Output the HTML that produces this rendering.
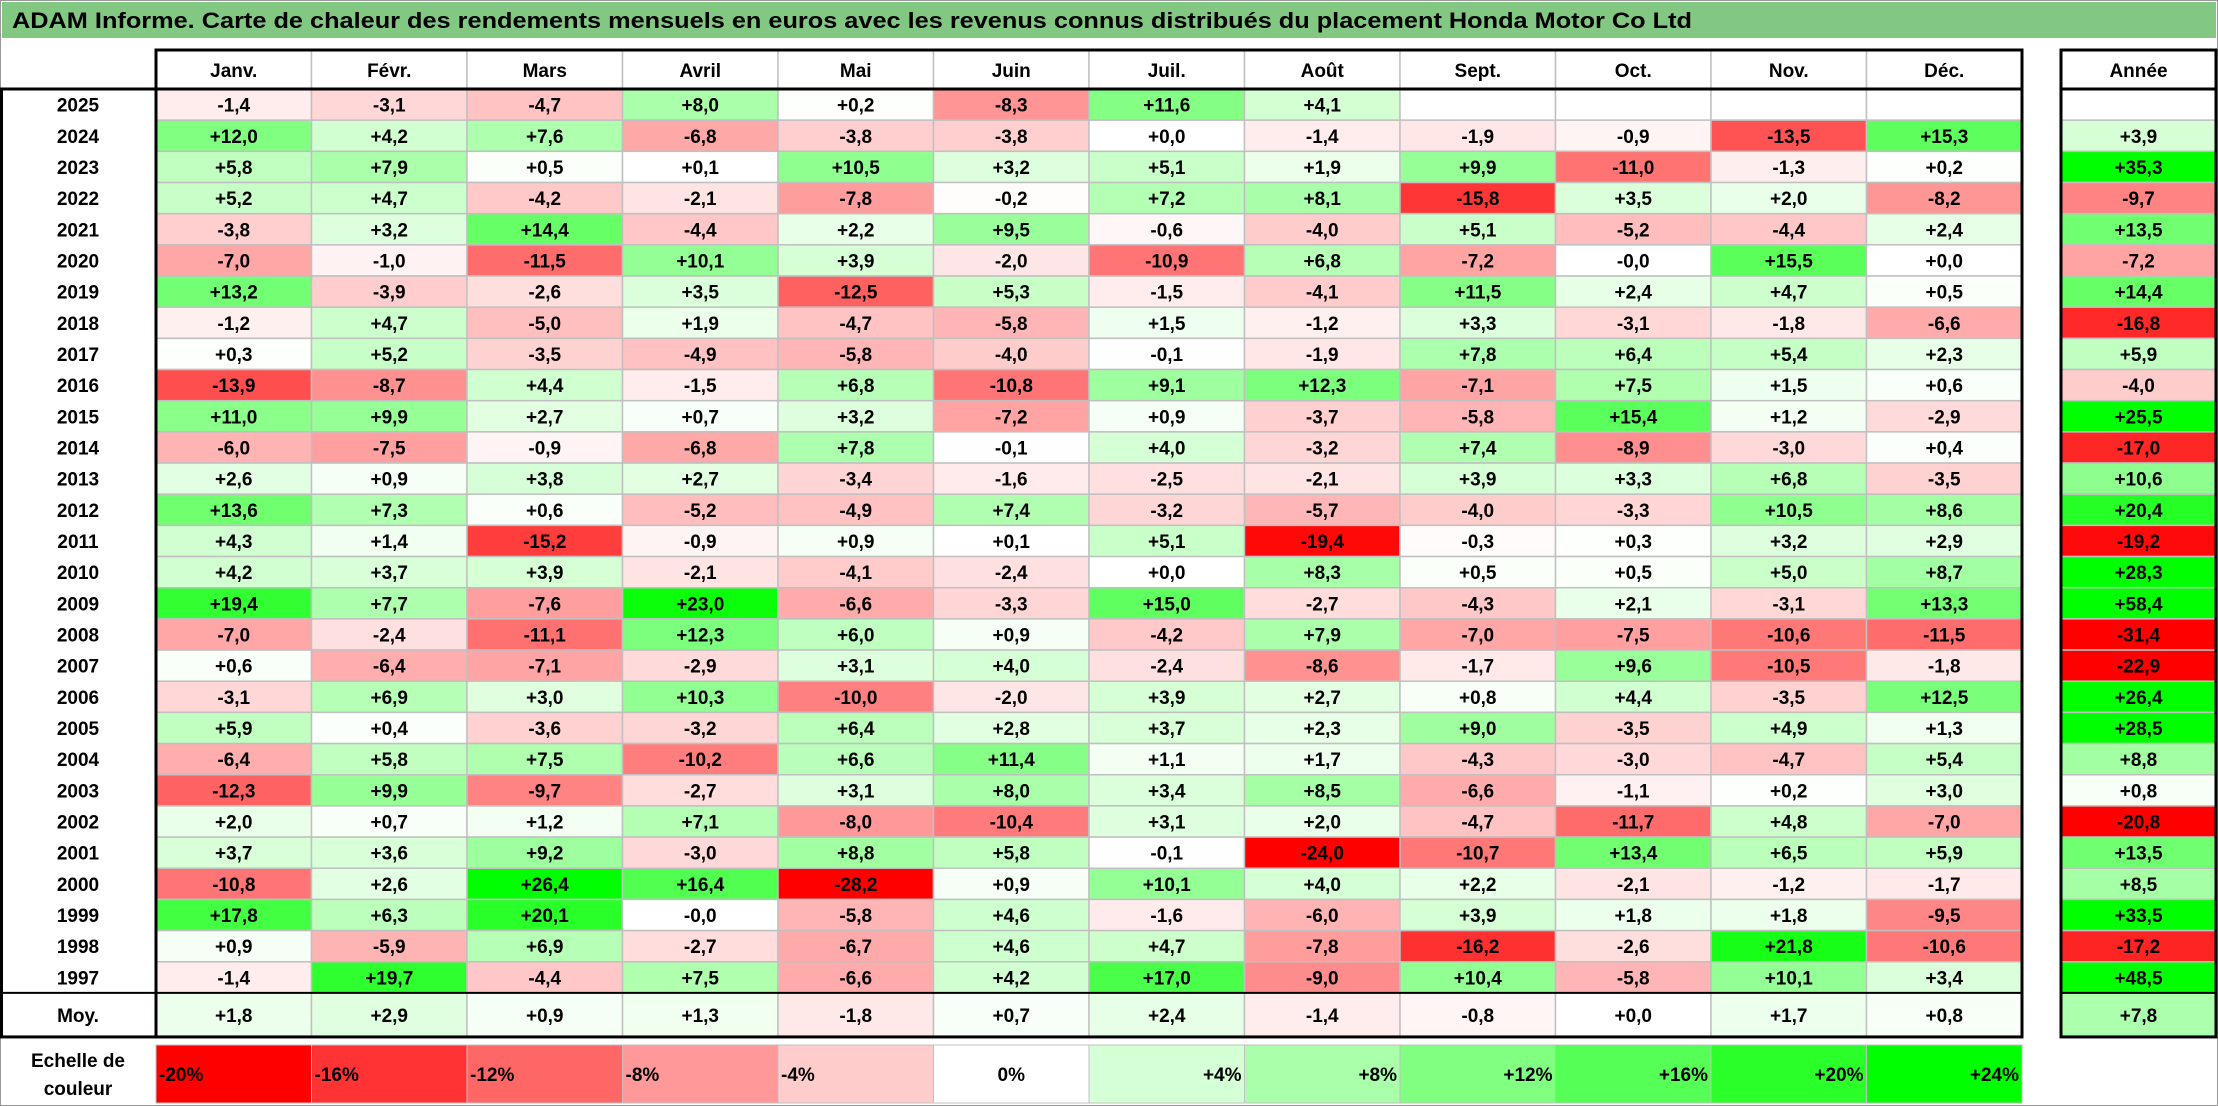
<!DOCTYPE html>
<html><head><meta charset="utf-8">
<style>
html,body{margin:0;padding:0;background:#fff;}
svg{display:block;font-family:"Liberation Sans",Arial,sans-serif;font-weight:bold;}
</style></head>
<body>
<svg id="chart" width="2218" height="1106" viewBox="0 0 2218 1106" xmlns="http://www.w3.org/2000/svg">
<rect x="0.5" y="0.5" width="2217" height="1105" fill="#fff" stroke="#999"/>
<rect x="2" y="2" width="2214" height="36" fill="#82c882"/>
<text x="12" y="28" font-size="22" fill="#000" textLength="1680" lengthAdjust="spacingAndGlyphs">ADAM Informe. Carte de chaleur des rendements mensuels en euros avec les revenus connus distribués du placement Honda Motor Co Ltd</text>
<g id="cells"></g>
<g id="lines"></g>
</svg>
<script>
const months = ["Janv.","Févr.","Mars","Avril","Mai","Juin","Juil.","Août","Sept.","Oct.","Nov.","Déc."];
const years = ["2025","2024","2023","2022","2021","2020","2019","2018","2017","2016","2015","2014","2013","2012","2011","2010","2009","2008","2007","2006","2005","2004","2003","2002","2001","2000","1999","1998","1997"];
const monthly = [
[-1.4,-3.1,-4.7,8.0,0.2,-8.3,11.6,4.1,null,null,null,null],
[12.0,4.2,7.6,-6.8,-3.8,-3.8,0.0,-1.4,-1.9,-0.9,-13.5,15.3],
[5.8,7.9,0.5,0.1,10.5,3.2,5.1,1.9,9.9,-11.0,-1.3,0.2],
[5.2,4.7,-4.2,-2.1,-7.8,-0.2,7.2,8.1,-15.8,3.5,2.0,-8.2],
[-3.8,3.2,14.4,-4.4,2.2,9.5,-0.6,-4.0,5.1,-5.2,-4.4,2.4],
[-7.0,-1.0,-11.5,10.1,3.9,-2.0,-10.9,6.8,-7.2,-0.0,15.5,0.0],
[13.2,-3.9,-2.6,3.5,-12.5,5.3,-1.5,-4.1,11.5,2.4,4.7,0.5],
[-1.2,4.7,-5.0,1.9,-4.7,-5.8,1.5,-1.2,3.3,-3.1,-1.8,-6.6],
[0.3,5.2,-3.5,-4.9,-5.8,-4.0,-0.1,-1.9,7.8,6.4,5.4,2.3],
[-13.9,-8.7,4.4,-1.5,6.8,-10.8,9.1,12.3,-7.1,7.5,1.5,0.6],
[11.0,9.9,2.7,0.7,3.2,-7.2,0.9,-3.7,-5.8,15.4,1.2,-2.9],
[-6.0,-7.5,-0.9,-6.8,7.8,-0.1,4.0,-3.2,7.4,-8.9,-3.0,0.4],
[2.6,0.9,3.8,2.7,-3.4,-1.6,-2.5,-2.1,3.9,3.3,6.8,-3.5],
[13.6,7.3,0.6,-5.2,-4.9,7.4,-3.2,-5.7,-4.0,-3.3,10.5,8.6],
[4.3,1.4,-15.2,-0.9,0.9,0.1,5.1,-19.4,-0.3,0.3,3.2,2.9],
[4.2,3.7,3.9,-2.1,-4.1,-2.4,0.0,8.3,0.5,0.5,5.0,8.7],
[19.4,7.7,-7.6,23.0,-6.6,-3.3,15.0,-2.7,-4.3,2.1,-3.1,13.3],
[-7.0,-2.4,-11.1,12.3,6.0,0.9,-4.2,7.9,-7.0,-7.5,-10.6,-11.5],
[0.6,-6.4,-7.1,-2.9,3.1,4.0,-2.4,-8.6,-1.7,9.6,-10.5,-1.8],
[-3.1,6.9,3.0,10.3,-10.0,-2.0,3.9,2.7,0.8,4.4,-3.5,12.5],
[5.9,0.4,-3.6,-3.2,6.4,2.8,3.7,2.3,9.0,-3.5,4.9,1.3],
[-6.4,5.8,7.5,-10.2,6.6,11.4,1.1,1.7,-4.3,-3.0,-4.7,5.4],
[-12.3,9.9,-9.7,-2.7,3.1,8.0,3.4,8.5,-6.6,-1.1,0.2,3.0],
[2.0,0.7,1.2,7.1,-8.0,-10.4,3.1,2.0,-4.7,-11.7,4.8,-7.0],
[3.7,3.6,9.2,-3.0,8.8,5.8,-0.1,-24.0,-10.7,13.4,6.5,5.9],
[-10.8,2.6,26.4,16.4,-28.2,0.9,10.1,4.0,2.2,-2.1,-1.2,-1.7],
[17.8,6.3,20.1,-0.0,-5.8,4.6,-1.6,-6.0,3.9,1.8,1.8,-9.5],
[0.9,-5.9,6.9,-2.7,-6.7,4.6,4.7,-7.8,-16.2,-2.6,21.8,-10.6],
[-1.4,19.7,-4.4,7.5,-6.6,4.2,17.0,-9.0,10.4,-5.8,10.1,3.4]
];
const annual = [null,3.9,35.3,-9.7,13.5,-7.2,14.4,-16.8,5.9,-4.0,25.5,-17.0,10.6,20.4,-19.2,28.3,58.4,-31.4,-22.9,26.4,28.5,8.8,0.8,-20.8,13.5,8.5,33.5,-17.2,48.5];
const averages = [1.8,2.9,0.9,1.3,-1.8,0.7,2.4,-1.4,-0.8,0.0,1.7,0.8];
const averageAnnual = 7.8;
const scaleValues = [-20,-16,-12,-8,-4,0,4,8,12,16,20,24];
const scaleLabels = ["-20%","-16%","-12%","-8%","-4%","0%","+4%","+8%","+12%","+16%","+20%","+24%"];

const NS = "http://www.w3.org/2000/svg";
const cellsG = document.getElementById('cells');
const linesG = document.getElementById('lines');
const X0 = 156, CW = 155.5, AX = 2061, AW = 155;
const HY = 50, RY = 89, RH = 31.17, MOYH = 44;
const moyY = RY + years.length*RH;
function colX(i){ return X0 + i*CW; }
function rowY(r){ return RY + r*RH; }
function color(v){
  if (v===null) return "#fff";
  if (v<0){ const t=Math.min(-v/20,1); const c=Math.round(255*(1-t)); return `rgb(255,${c},${c})`; }
  const t=Math.min(v/24,1); const c=Math.round(255*(1-t)); return `rgb(${c},255,${c})`;
}
function fmt(v){
  const neg = v<0 || Object.is(v,-0);
  return (neg?"-":"+") + Math.abs(v).toFixed(1).replace('.',',');
}
function mk(tag, attrs, parent){
  const e=document.createElementNS(NS,tag);
  for (const k in attrs) e.setAttribute(k, attrs[k]);
  parent.appendChild(e); return e;
}
function txt(s,x,y,size,anchor,parent){
  const t=mk('text',{x:x,y:y,'font-size':size,'text-anchor':anchor||'middle',fill:'#000'},parent);
  t.textContent=s; return t;
}
function cell(v,x,y,w,h,name){
  const r=mk('rect',{x:x,y:y,width:w,height:h,fill:color(v),stroke:'#c0c0c0','stroke-width':1.5},cellsG);
  
  
  if (v!==null){
    const t=txt(fmt(v),x+w/2,y+h/2+7,19,'middle',cellsG);
    
    
  }
}
// headers
months.forEach((m,i)=>{
  mk('rect',{x:colX(i),y:HY,width:CW,height:RY-HY,fill:'#fff',stroke:'#c0c0c0','stroke-width':1.5},cellsG);
  const t=txt(m,colX(i)+CW/2,HY+27,19,'middle',cellsG);
  
  
});
{
  const t=txt("Année",AX+AW/2,HY+27,19,'middle',cellsG);
  
  
}
// rows
years.forEach((y,r)=>{
  const yy=rowY(r);
  const lbl=txt(y,78,yy+RH/2+7,19,'middle',cellsG);
  
  
  monthly[r].forEach((v,i)=>cell(v,colX(i),yy,CW,RH,'cell-'+y+'-'+(i+1)));
  cell(annual[r],AX,yy,AW,RH,'annual-'+y);
});
// averages
{
  const lbl=txt("Moy.",78,moyY+MOYH/2+7,19,'middle',cellsG);
  
  
}
averages.forEach((v,i)=>cell(v,colX(i),moyY,CW,MOYH,'average-'+(i+1)));
cell(averageAnnual,AX,moyY,AW,MOYH,'average-annual');
// thick borders
const B={stroke:'#000','stroke-width':3,fill:'none'};
mk('rect',Object.assign({x:X0,y:HY,width:12*CW,height:moyY+MOYH-HY},B),linesG);
mk('rect',Object.assign({x:1.5,y:RY,width:X0-1.5,height:moyY+MOYH-RY},B),linesG);
mk('line',{x1:0,y1:RY,x2:X0+12*CW,y2:RY,stroke:'#000','stroke-width':3},linesG);
mk('line',{x1:0,y1:moyY,x2:X0+12*CW,y2:moyY,stroke:'#000','stroke-width':2},linesG);
mk('rect',Object.assign({x:AX,y:HY,width:AW,height:moyY+MOYH-HY},B),linesG);
mk('line',{x1:AX,y1:RY,x2:AX+AW,y2:RY,stroke:'#000','stroke-width':3},linesG);
mk('line',{x1:AX,y1:moyY,x2:AX+AW,y2:moyY,stroke:'#000','stroke-width':2},linesG);
// legend
const LY=1045, LH=58;
{
  const a=txt("Echelle de",78,LY+22,19,'middle',cellsG);
  
  
  const b=txt("couleur",78,LY+50,19,'middle',cellsG);
  
  
}
scaleValues.forEach((v,i)=>{
  const x=colX(i);
  const r=mk('rect',{x:x,y:LY,width:CW,height:LH,fill:color(v),stroke:'#c0c0c0','stroke-width':1},cellsG);
  
  
  let anchor='middle', tx=x+CW/2;
  if (v<0){anchor='start'; tx=x+3;} else if (v>0){anchor='end'; tx=x+CW-3;}
  const t=txt(scaleLabels[i],tx,LY+LH/2+7,19,anchor,cellsG);
  
  
});
</script>
</body></html>
